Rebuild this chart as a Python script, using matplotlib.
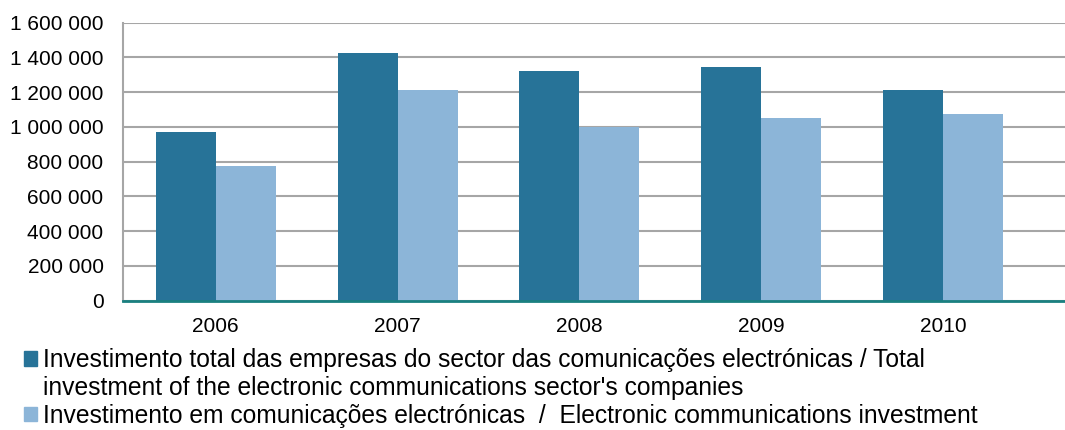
import matplotlib
matplotlib.use("Agg")
import matplotlib.pyplot as plt
from matplotlib.patches import Patch
from matplotlib.ticker import FuncFormatter
import numpy as np

# Values
years = ["2006", "2007", "2008", "2009", "2010"]
total_investment = [969000, 1427000, 1320000, 1343000, 1214000]
ec_investment = [777000, 1214000, 998000, 1053000, 1075000]

label_total_1 = "Investimento total das empresas do sector das comunicações electrónicas / Total"
label_total_2 = "investment of the electronic communications sector's companies"
label_ec = "Investimento em comunicações electrónicas  /  Electronic communications investment"

plt.rcParams["font.family"] = ["Liberation Sans", "DejaVu Sans"]

fig = plt.figure(figsize=(10.65, 4.3), dpi=100, facecolor="white")
ax = fig.add_axes([0.1155, 0.3007, 0.8845, 0.6465])

x = np.arange(len(years))
w = 0.33
ax.bar(x - w / 2, total_investment, width=w, color="#277398", zorder=3)
ax.bar(x + w / 2, ec_investment, width=w, color="#8cb5d8", zorder=3)

ax.set_ylim(0, 1600000)
ax.set_xlim(-0.51, 4.67)
ax.set_yticks(np.arange(0, 1600001, 200000))
ax.yaxis.set_major_formatter(FuncFormatter(lambda v, p: f"{int(v):,}".replace(",", " ")))
ax.set_xticks(x)
ax.set_xticklabels(years)
ax.tick_params(axis="y", length=0, pad=14, labelsize=15)
ax.tick_params(axis="x", length=0, pad=12, labelsize=15)

ax.grid(axis="y", color="#a6a6a6", linewidth=1.5, zorder=0)
for s in ["top", "right"]:
    ax.spines[s].set_visible(False)
ax.spines["left"].set_color("#a6a6a6")
ax.spines["left"].set_linewidth(1.5)
ax.spines["bottom"].set_color("#1a8080")
ax.spines["bottom"].set_linewidth(2)
ax.spines["bottom"].set_zorder(4)

# second line of the first label gets an empty handle so the square sits on line one
handles = [Patch(color="#277398", label=label_total_1),
           Patch(color="none", label=label_total_2),
           Patch(color="#8cb5d8", label=label_ec)]
fig.legend(handles=handles, loc="upper left", bbox_to_anchor=(0.0225, 0.19),
           frameon=False, fontsize=17.7, handlelength=0.52, handleheight=0.52,
           handletextpad=0.24, labelspacing=0.15, borderaxespad=0, borderpad=0)

fig.savefig("out.png", dpi=100, facecolor="white")
